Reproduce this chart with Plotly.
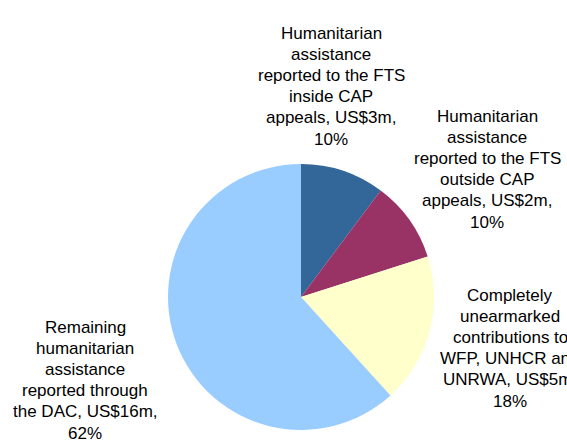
import plotly.graph_objects as go

categories = [
    "Humanitarian assistance reported to the FTS inside CAP appeals",
    "Humanitarian assistance reported to the FTS outside CAP appeals",
    "Completely unearmarked contributions to WFP, UNHCR and UNRWA",
    "Remaining humanitarian assistance reported through the DAC",
]
values_usm = [2.7, 2.6, 4.8, 16.3]
display_usm = ["US$3m", "US$2m", "US$5m", "US$16m"]
percent_labels = ["10%", "10%", "18%", "62%"]
label_lines = [
    ["Humanitarian", "assistance", "reported to the FTS", "inside CAP", "appeals, " + display_usm[0] + ","],
    ["Humanitarian", "assistance", "reported to the FTS", "outside CAP", "appeals, " + display_usm[1] + ","],
    ["Completely", "unearmarked", "contributions to", "WFP, UNHCR and", "UNRWA, " + display_usm[2] + ","],
    ["Remaining", "humanitarian", "assistance", "reported through", "the DAC, " + display_usm[3] + ","],
]
colors = ["#336699", "#993366", "#FFFFCC", "#99CCFF"]

W, H = 567, 443
cx, cy, r = 301, 297, 133

fig = go.Figure(go.Pie(
    labels=categories,
    values=values_usm,
    sort=False,
    direction="clockwise",
    rotation=0,
    textinfo="none",
    hoverinfo="label+value+percent",
    marker=dict(colors=colors, line=dict(width=0)),
    domain=dict(x=[(cx - r) / W, (cx + r) / W], y=[1 - (cy + r) / H, 1 - (cy - r) / H]),
    showlegend=False,
))

# label block: center x and first-line center y (pixels)
label_pos = [(331, 33), (487, 116), (510, 295), (85, 327)]
line_gap = 21.2
font = dict(family="Arial, Liberation Sans, sans-serif", size=17, color="#000000")
for lines, pct, (lx, ly) in zip(label_lines, percent_labels, label_pos):
    for i, t in enumerate(lines + [pct]):
        fig.add_annotation(
            x=lx / W, y=1 - (ly + i * line_gap) / H, xref="paper", yref="paper",
            text=t, showarrow=False,
            xanchor="center", yanchor="middle", align="center", font=font,
        )

fig.update_layout(
    width=W, height=H,
    margin=dict(l=0, r=0, t=0, b=0),
    paper_bgcolor="white", plot_bgcolor="white",
)
fig.write_html("out.html")
